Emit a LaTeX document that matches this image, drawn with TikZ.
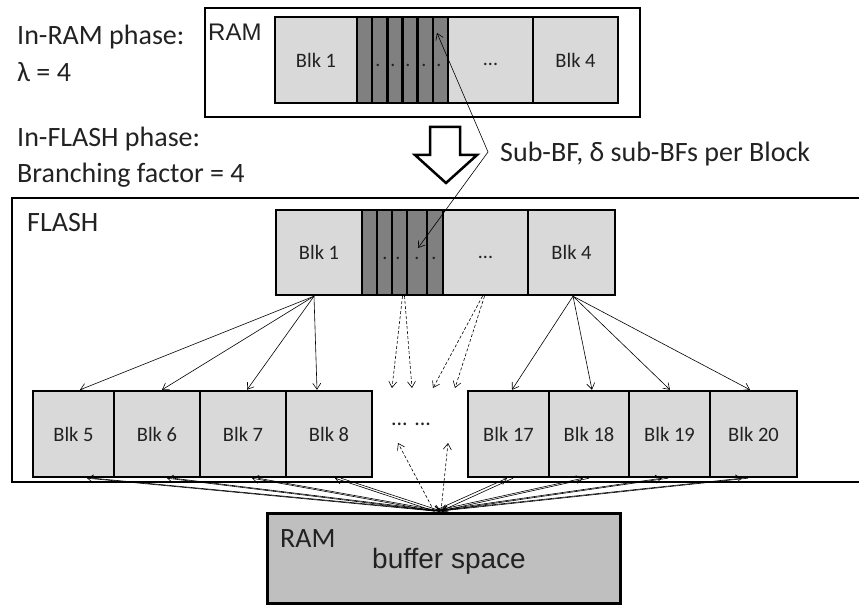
\documentclass[tikz,border=0pt]{standalone}
\usepackage{fontspec}
\setmainfont{Carlito}
\newfontfamily\arialf{Liberation Sans}
\usetikzlibrary{arrows.meta,calc}
\definecolor{blkgray}{HTML}{D9D9D9}
\definecolor{stripegray}{HTML}{808080}
\definecolor{bufgray}{HTML}{BFBFBF}
\definecolor{txt}{HTML}{222222}
\begin{document}
\begin{tikzpicture}[x=1pt,y=-1pt,
 blk/.style={draw, line width=2.4pt, fill=blkgray, inner sep=0pt, minimum height=86pt, text=txt, font=\fontsize{20.5}{24}\selectfont},
 stripe/.style={draw, line width=2.4pt, fill=stripegray, inner sep=0pt, minimum height=86pt},
 dotmark/.style={inner sep=0pt, font=\fontsize{20}{24}\selectfont, text=txt},
 boxframe/.style={draw, line width=2.6pt, inner sep=0pt},
 lbl/.style={anchor=base west, inner sep=0pt, text=txt, font=\fontsize{28}{34}\selectfont},
 conn/.style={line width=0.6pt, -{Straight Barb[length=6pt,width=8pt]}},
 dconn/.style={conn, dash pattern=on 3pt off 2pt},
 bconn/.style={line width=0.6pt, {Straight Barb[length=6pt,width=8pt]}-{Straight Barb[length=6pt,width=8pt]}},
]
\useasboundingbox (0,0) rectangle (859,609);
\clip (0,0) rectangle (859,609);

% outer frames
\node[boxframe, minimum width=900pt, minimum height=284pt] (flash) at (462,340) {};
\node[boxframe, minimum width=435pt, minimum height=109pt] (ramtop) at (422.5,62.5) {};
\node[boxframe, line width=3pt, fill=bufgray, minimum width=353pt, minimum height=90pt] (buf) at (443.5,558) {};

% top RAM strip
\node[blk, minimum width=82pt] (r1) at (316,60) {Blk 1};
\foreach \i in {1,...,6}
  \node[stripe, minimum width=15.17pt] (rs\i) at ({357+15.17*(\i-0.5)},60) {};
\node[blk, minimum width=85pt] (r3) at (490.5,60) {};
\node[dotmark] (r3t) at (490.5,64) {...};
\node[blk, minimum width=85pt] (r4) at (575.5,60) {Blk 4};
\foreach \x [count=\i] in {378,393,408,424,439}
  \node[dotmark] (rd\i) at (\x,65) {.};

% FLASH strip
\node[blk, minimum width=86pt, minimum height=85pt] (f1) at (319,252.5) {Blk 1};
\foreach \a/\b [count=\i] in {362/377,377/392,392/407,407/427,427/443}
  \node[stripe, minimum height=85pt, minimum width={(\b-\a)*1pt}] (fs\i) at ({(\a+\b)/2},252.5) {};
\node[blk, minimum width=85pt, minimum height=85pt] (f3) at (485.5,252.5) {};
\node[dotmark] (f3t) at (485.5,257) {...};
\node[blk, minimum width=87pt, minimum height=85pt] (f4) at (571.5,252.5) {Blk 4};
\foreach \x [count=\i] in {385,398,417,434}
  \node[dotmark] (fd\i) at (\x,258) {.};

% bottom row
\node[blk, minimum width=81pt] (b5) at (73.5,434) {Blk 5};
\node[blk, minimum width=86pt] (b6) at (157,434) {Blk 6};
\node[blk, minimum width=86pt] (b7) at (243,434) {Blk 7};
\node[blk, minimum width=86pt] (b8) at (329,434) {Blk 8};
\node[blk, minimum width=81pt] (b17) at (508.5,434) {Blk 17};
\node[blk, minimum width=80pt] (b18) at (589,434) {Blk 18};
\node[blk, minimum width=81pt] (b19) at (669.5,434) {Blk 19};
\node[blk, minimum width=87pt] (b20) at (753.5,434) {Blk 20};
\node[dotmark, font=\fontsize{22}{26}\selectfont] (mid) at (411,424) {... ...};

% texts
\node[lbl] (t1) at (17,45) {In-RAM phase:};
\node[lbl] (t2) at (17,82) {λ = 4};
\node[lbl] (t3) at (17,147) {In-FLASH phase:};
\node[lbl] (t4) at (17,183) {Branching factor = 4};
\node[lbl] (t5) at (27,232) {FLASH};
\node[lbl] (t6) at (500,162) {Sub-BF, δ sub-BFs per Block};
\node[lbl, font=\arialf\fontsize{24}{28}\selectfont] (t7) at (208,41) {RAM};
\node[lbl] (t8) at (280,547) {RAM};
\node[lbl, font=\arialf\fontsize{28}{34}\selectfont] (t9) at (372,568) {buffer space};

% big hollow arrow
\draw[line width=2.5pt, fill=white, line join=miter]
  (430,127) -- (460,127) -- (460,155) -- (477,155) -- (446,183) -- (415,155) -- (430,155) -- cycle;

% Sub-BF connector
\coordinate (tipR) at (437,33);
\coordinate (bend) at (488,152);
\coordinate (tipF) at (418,248);
\draw[bconn] (tipR) -- (bend) -- (tipF);

% fan from Blk 1
\coordinate (o1) at ($(f1.south)+(-5,0)$);
\draw[conn] (o1) -- ($(b5.north)+(6.5,0)$);
\draw[conn] (o1) -- ($(b6.north)+(5,0)$);
\draw[conn] (o1) -- ($(b7.north)+(4,0)$);
\draw[conn] (o1) -- ($(b8.north)+(-12,0)$);
% fan from Blk 4
\coordinate (o4) at ($(f4.south)+(1.5,0)$);
\draw[conn] (o4) -- ($(b17.north)+(3.5,0)$);
\draw[conn] (o4) -- ($(b18.north)+(3,0)$);
\draw[conn] (o4) -- ($(b19.north)+(0.5,0)$);
\draw[conn] (o4) -- ($(b20.north)+(-3.5,0)$);

% dashed arrows down
\coordinate (dso) at ($(fs3.south)+(4,0)$);
\coordinate (dco) at ($(f3.south)+(-2,0)$);
\coordinate (dd1) at (392,388);
\coordinate (dd2) at (412,388);
\coordinate (dd3) at (433,388);
\coordinate (dd4) at (455,388);
\draw[dconn] ($(dso)+(-1,0)$) -- (dd1);
\draw[dconn] ($(dso)+(1,0)$) -- (dd2);
\draw[dconn] ($(dco)+(-1,0)$) -- (dd3);
\draw[dconn] ($(dco)+(1,0)$) -- (dd4);

% bottom connections
\coordinate (convA) at (434,511);
\coordinate (convB) at (441,511);
\coordinate (du1) at (398,443);
\coordinate (du2) at (448,443);
\draw[dconn] (convA) -- (du1);
\draw[dconn] (convB) -- (du2);
\foreach \b/\d in {b5/13.5,b6/10,b7/9,b8/6,b17/-1.5,b18/-6,b19/-7.5,b20/-11.5}{
  \draw[conn] (convA) -- ($(\b.south)+(\d,0)$);
  \draw[conn] ($(\b.south)+(\d+6,0)$) -- (convB);
}
\end{tikzpicture}
\end{document}
